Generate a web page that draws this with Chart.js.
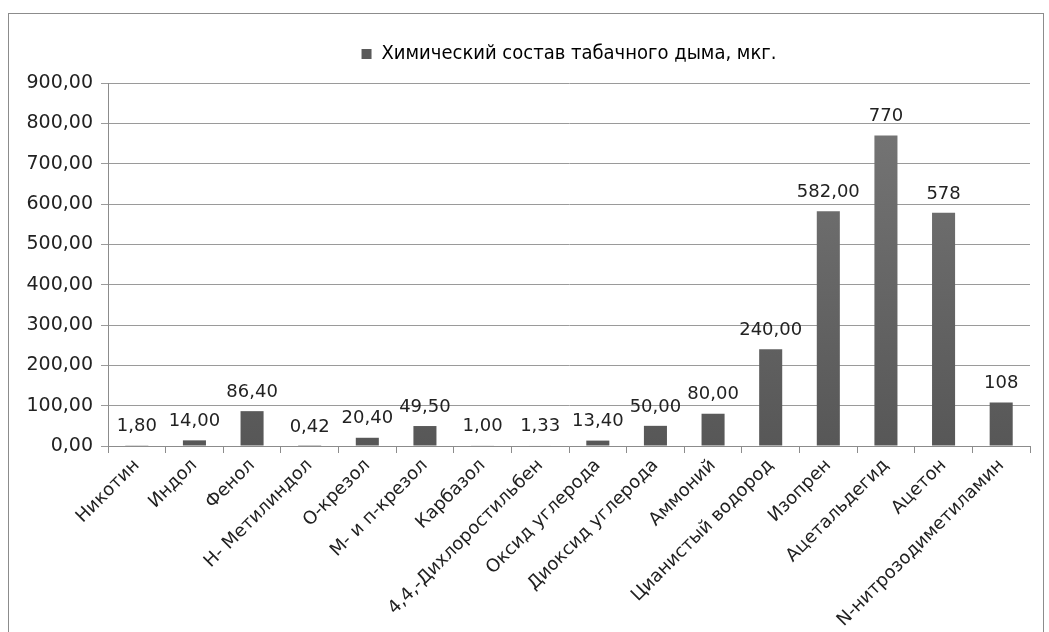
<!DOCTYPE html>
<html>
<head>
<meta charset="utf-8">
<script src="https://cdn.jsdelivr.net/npm/chart.js@4"></script>
<style>
  html, body { margin: 0; padding: 0; background: #fff; }
  #wrap { width: 1049px; height: 632px; }
</style>
</head>
<body>
<div id="wrap"><canvas id="smokeChart" width="1049" height="632"></canvas></div>
<script>
// Chart data
const categories = ['Никотин', 'Индол', 'Фенол', 'Н- Метилиндол', 'О-крезол', 'М- и п-крезол',
    'Карбазол', '4,4,-Дихлоростильбен', 'Оксид углерода', 'Диоксид углерода', 'Аммоний',
    'Цианистый водород', 'Изопрен', 'Ацетальдегид', 'Ацетон', 'N-нитрозодиметиламин'];
const values = [1.80, 14.00, 86.40, 0.42, 20.40, 49.50, 1.00, 1.33, 13.40, 50.00, 80.00,
    240.00, 582.00, 770, 578, 108];
// decimals shown in each data label
const labelDecimals = [2, 2, 2, 2, 2, 2, 2, 2, 2, 2, 2, 2, 2, 0, 0, 0];
const seriesName = 'Химический состав табачного дыма, мкг.';
const yTicks = { min: 0, max: 900, step: 100 };

const fmt = (v, d) => v.toFixed(d).replace('.', ',');

// outer frame like the excel chart area
const framePlugin = {
    id: 'frame',
    beforeDraw(chart) {
        const ctx = chart.ctx;
        ctx.save();
        ctx.strokeStyle = '#8c8c8c';
        ctx.lineWidth = 1;
        ctx.strokeRect(8.5, 13.5, 1035, 650);
        ctx.restore();
    }
};

// excel centres the legend over the plot area, not the whole canvas
const legendShift = {
    id: 'legendShift',
    afterLayout(chart) {
        const lg = chart.legend, area = chart.chartArea;
        const dx = (area.left + area.right) / 2 - (lg.left + lg.right) / 2;
        lg.left += dx;
        lg.right += dx;
        lg.top -= 9;
        lg.bottom -= 9;
    }
};

// value labels above bars
const valueLabels = {
    id: 'valueLabels',
    afterDatasetsDraw(chart) {
        const ctx = chart.ctx;
        const meta = chart.getDatasetMeta(0);
        ctx.save();
        ctx.font = '18px "DejaVu Sans"';
        ctx.fillStyle = '#222';
        ctx.textAlign = 'center';
        ctx.textBaseline = 'middle';
        meta.data.forEach((bar, i) => {
            ctx.fillText(fmt(values[i], labelDecimals[i]), bar.x, bar.y - 19);
        });
        ctx.restore();
    }
};

function barFill(context) {
    const area = context.chart.chartArea;
    if (!area) return '#666';
    const g = context.chart.ctx.createLinearGradient(0, area.top, 0, area.bottom);
    g.addColorStop(0, '#787878');
    g.addColorStop(1, '#575757');
    return g;
}

new Chart(document.getElementById('smokeChart').getContext('2d'), {
    type: 'bar',
    data: {
        labels: categories,
        datasets: [{
            label: seriesName,
            data: values,
            backgroundColor: barFill,
            borderWidth: 0,
            categoryPercentage: 1,
            barPercentage: 0.4
        }]
    },
    options: {
        responsive: false,
        animation: false,
        layout: { padding: { left: 0, right: 19, top: 20, bottom: 0 } },
        plugins: {
            legend: {
                display: true,
                labels: {
                    font: { family: '"Liberation Sans Narrow", "DejaVu Sans Condensed"', size: 20 },
                    color: '#222',
                    boxWidth: 10,
                    boxHeight: 10,
                    padding: 33,
                    generateLabels: chart => [{
                        text: seriesName,
                        fillStyle: '#5a5a5a',
                        strokeStyle: '#5a5a5a',
                        lineWidth: 0,
                        datasetIndex: 0
                    }]
                }
            },
            tooltip: { enabled: false }
        },
        scales: {
            x: {
                grid: { offset: true, drawOnChartArea: false, color: '#8c8c8c', tickLength: 7 },
                border: { color: '#8c8c8c' },
                ticks: {
                    maxRotation: 45,
                    minRotation: 45,
                    autoSkip: false,
                    color: '#222',
                    padding: 2,
                    font: { family: '"DejaVu Sans"', size: 18 }
                },
                afterFit(scale) { scale.height = 186; }
            },
            y: {
                min: yTicks.min,
                max: yTicks.max,
                grid: { color: '#9a9a9a', tickLength: 7 },
                border: { color: '#8c8c8c' },
                ticks: {
                    stepSize: yTicks.step,
                    color: '#222',
                    padding: 8,
                    font: { family: '"DejaVu Sans"', size: 19 },
                    callback: v => fmt(v, 2)
                },
                afterFit(scale) { scale.width = 108; }
            }
        }
    },
    plugins: [framePlugin, legendShift, valueLabels]
});
</script>
</body>
</html>
